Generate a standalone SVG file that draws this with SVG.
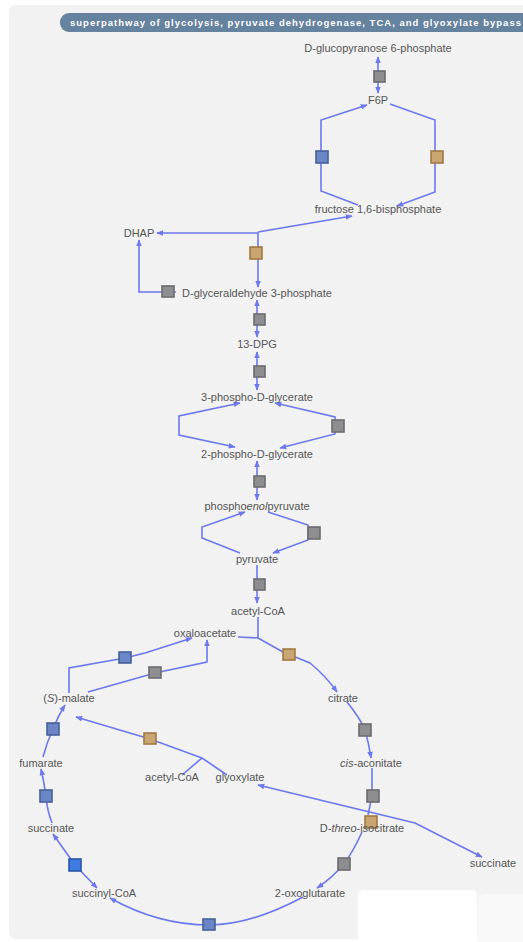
<svg xmlns="http://www.w3.org/2000/svg" width="523" height="942" viewBox="0 0 523 942">
<defs>
<marker id="ah" viewBox="0 0 10 10" refX="9" refY="5" markerWidth="7" markerHeight="7" markerUnits="userSpaceOnUse" orient="auto-start-reverse">
<path d="M0,1 L10,5 L0,9 Z" fill="#6b78ee"/>
</marker>
</defs>
<style>
.bg{fill:#f2f2f2}
.c{fill:none;stroke:#6b78ee;stroke-width:1.6}
.a{marker-end:url(#ah)}
.b{marker-start:url(#ah);marker-end:url(#ah)}
.t{font-family:"Liberation Sans",Arial,sans-serif;font-size:11px;fill:#555;text-anchor:middle}
.r{stroke-width:1.6}
.gray{fill:#8e8e90;stroke:#6c6c70}
.blue{fill:#6a86c4;stroke:#45609a}
.bblue{fill:#3f7be0;stroke:#2a56a8}
.orange{fill:#c9a571;stroke:#a07a45}
.title{font-family:"Liberation Sans",Arial,sans-serif;font-size:9.5px;font-weight:bold;fill:#ffffff}
</style>
<rect width="523" height="942" fill="#ffffff"/>
<rect class="bg" x="9" y="5" width="530" height="934" rx="6"/>
<rect x="358" y="890" width="119" height="60" rx="6" fill="#ffffff"/>
<rect x="478" y="894" width="60" height="60" rx="6" fill="#f9f9f9"/>
<g id="title">
<rect x="60" y="13" width="490" height="19" rx="9" fill="#65829f"/>
<text class="title" x="70" y="26" textLength="451" lengthAdjust="spacing">superpathway of glycolysis, pyruvate dehydrogenase, TCA, and glyoxylate bypass</text>
</g>
<g id="connectors">
<path class="c b" d="M378,57 V93"/>
<path class="c a" d="M358,205 L321,191 V120 L367,105"/>
<path class="c a" d="M390,104 L435,120 V192 L397,206"/>
<path class="c a" d="M258,232 L352,216"/>
<path class="c a" d="M258,233 H157"/>
<path class="c a" d="M258,232 V287"/>
<path class="c a" d="M176,292 H139 V240"/>
<path class="c b" d="M257,300 V337"/>
<path class="c b" d="M257,352 V390"/>
<path class="c b" d="M240,403 L179,416 V435 L235,447"/>
<path class="c b" d="M275,403 L335,417 V434 L280,448"/>
<path class="c b" d="M257,461 V500"/>
<path class="c a" d="M240,553 L202,538 V527 L245,512"/>
<path class="c a" d="M268,512 L308,525 V540 L273,553"/>
<path class="c a" d="M257,565 V603"/>
<path class="c" d="M258,617 V638 M238,637 L258,638"/>
<path class="c a" d="M258,638 L283,652 L310,663 Q326,676 337,692"/>
<path class="c a" d="M347,702 Q360,718 365,730 Q369,744 371,758"/>
<path class="c" d="M372,768 V796 L368,815"/>
<path class="c b" d="M258,785 L415,823 L482,857"/>
<path class="c a" d="M362,832 Q354,850 344,864 Q332,878 317,888"/>
<path class="c a" d="M303,897 C275,912 240,925 209,925 C170,925 135,912 110,898"/>
<path class="c b" d="M97,888 L75,865 L53,834"/>
<path class="c a" d="M52,823 Q47,810 46,796 Q44,782 41,769"/>
<path class="c a" d="M43,757 Q47,742 53,729 Q58,716 65,705"/>
<path class="c a" d="M69,693 V668 L125,658 L145,653 L192,638"/>
<path class="c a" d="M88,692 L155,673 L207,662 V640"/>
<path class="c a" d="M202,758 L150,739 L76,717"/>
<path class="c" d="M182,775 L202,758 L227,775"/>
</g>
<g id="rxn-pgi"><rect class="r gray" x="374" y="71" width="11" height="11"/></g>
<g id="rxn-fbp"><rect class="r blue" x="316" y="151" width="12" height="12"/></g>
<g id="rxn-pfk"><rect class="r orange" x="431" y="151" width="12" height="12"/></g>
<g id="rxn-fba"><rect class="r orange" x="250" y="247" width="12" height="12"/></g>
<g id="rxn-tpi"><rect class="r gray" x="162" y="286" width="12" height="11"/></g>
<g id="rxn-gapdh"><rect class="r gray" x="254" y="314" width="11" height="11"/></g>
<g id="rxn-pgk"><rect class="r gray" x="254" y="366" width="11" height="11"/></g>
<g id="rxn-pgm"><rect class="r gray" x="332" y="420" width="12" height="12"/></g>
<g id="rxn-eno"><rect class="r gray" x="254" y="476" width="11" height="11"/></g>
<g id="rxn-pyk"><rect class="r gray" x="308" y="527" width="12" height="12"/></g>
<g id="rxn-pdh"><rect class="r gray" x="254" y="579" width="11" height="11"/></g>
<g id="rxn-cs"><rect class="r orange" x="283" y="649" width="12" height="11"/></g>
<g id="rxn-acn1"><rect class="r gray" x="359" y="724" width="12" height="12"/></g>
<g id="rxn-acn2"><rect class="r gray" x="367" y="790" width="12" height="12"/></g>
<g id="rxn-icl"><rect class="r orange" x="365" y="816" width="12" height="12"/></g>
<g id="rxn-icd"><rect class="r gray" x="338" y="858" width="12" height="12"/></g>
<g id="rxn-kgd"><rect class="r blue" x="203" y="919" width="12" height="11"/></g>
<g id="rxn-suc"><rect class="r bblue" x="69" y="859" width="12" height="12"/></g>
<g id="rxn-sdh"><rect class="r blue" x="40" y="790" width="12" height="12"/></g>
<g id="rxn-fum"><rect class="r blue" x="47" y="723" width="12" height="12"/></g>
<g id="rxn-mdh"><rect class="r blue" x="119" y="652" width="12" height="11"/></g>
<g id="rxn-mqo"><rect class="r gray" x="149" y="667" width="12" height="11"/></g>
<g id="rxn-ms"><rect class="r orange" x="144" y="733" width="12" height="11"/></g>
<g id="n-g6p"><text class="t" x="378" y="52">D-glucopyranose 6-phosphate</text></g>
<g id="n-f6p"><text class="t" x="378" y="104">F6P</text></g>
<g id="n-fbp"><text class="t" x="378" y="213">fructose 1,6-bisphosphate</text></g>
<g id="n-dhap"><text class="t" x="139" y="237">DHAP</text></g>
<g id="n-g3p"><text class="t" x="257" y="297">D-glyceraldehyde 3-phosphate</text></g>
<g id="n-13dpg"><text class="t" x="257" y="348">13-DPG</text></g>
<g id="n-3pg"><text class="t" x="257" y="401">3-phospho-D-glycerate</text></g>
<g id="n-2pg"><text class="t" x="257" y="458">2-phospho-D-glycerate</text></g>
<g id="n-pep"><text class="t" x="257" y="510">phospho<tspan font-style="italic">enol</tspan>pyruvate</text></g>
<g id="n-pyr"><text class="t" x="257" y="563">pyruvate</text></g>
<g id="n-accoa"><text class="t" x="258" y="615">acetyl-CoA</text></g>
<g id="n-oaa"><text class="t" x="205" y="637">oxaloacetate</text></g>
<g id="n-cit"><text class="t" x="343" y="702">citrate</text></g>
<g id="n-cisacon"><text class="t" x="371" y="767"><tspan font-style="italic">cis</tspan>-aconitate</text></g>
<g id="n-icit"><text class="t" x="362" y="832">D-<tspan font-style="italic">threo</tspan>-isocitrate</text></g>
<g id="n-succ2"><text class="t" x="493" y="867">succinate</text></g>
<g id="n-2og"><text class="t" x="310" y="897">2-oxoglutarate</text></g>
<g id="n-succoa"><text class="t" x="104" y="897">succinyl-CoA</text></g>
<g id="n-succ"><text class="t" x="51" y="832">succinate</text></g>
<g id="n-fum"><text class="t" x="41" y="767">fumarate</text></g>
<g id="n-mal"><text class="t" x="69" y="702">(<tspan font-style="italic">S</tspan>)-malate</text></g>
<g id="n-accoa2"><text class="t" x="172" y="781">acetyl-CoA</text></g>
<g id="n-glx"><text class="t" x="240" y="781">glyoxylate</text></g>
</svg>
